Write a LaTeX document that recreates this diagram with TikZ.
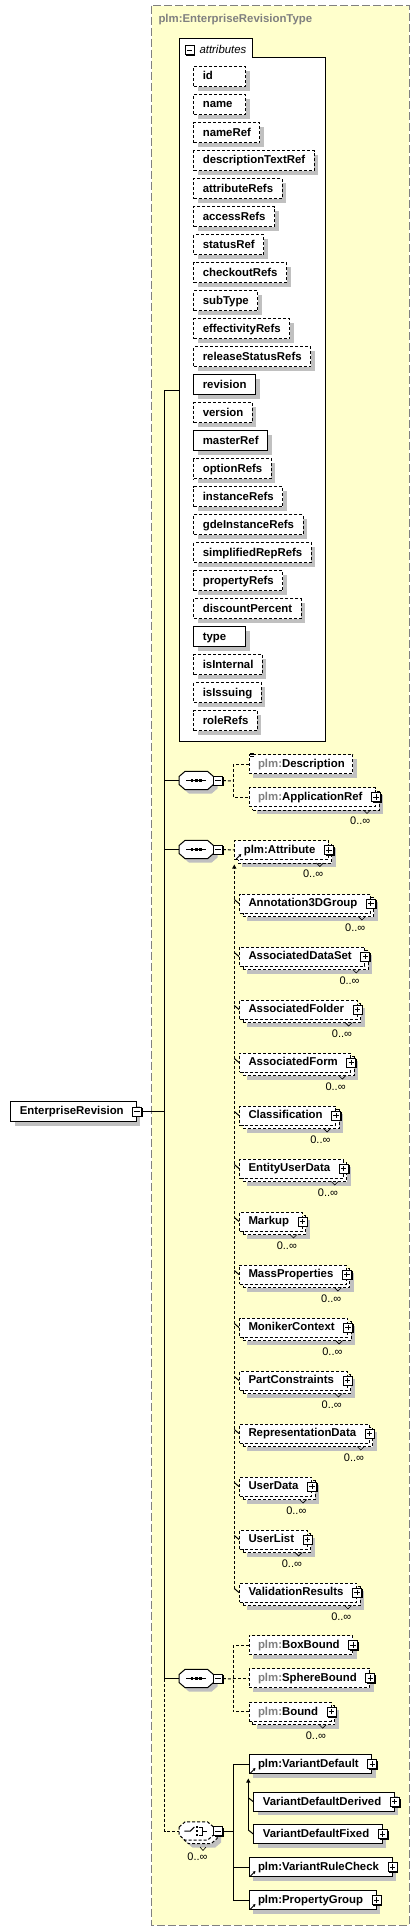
\documentclass[tikz,border=0pt]{standalone}
\usepackage{fontspec}
\setmainfont{Liberation Sans}
\usetikzlibrary{shadows,arrows.meta}
\definecolor{ylw}{RGB}{255,255,204}
\definecolor{shgray}{RGB}{192,192,192}
\definecolor{pfx}{RGB}{128,128,128}
\newcommand{\atleast}[2]{\setbox0\hbox{#2}\ifdim\wd0<#1\relax\makebox[#1][l]{\box0}\else\box0\fi}
\newcommand{\gp}{\textcolor{pfx}{plm:}}
\newcommand{\bx}[2]{\kern9pt#1\kern#2}
\tikzset{
  lbl/.style={font=\fontsize{11.4pt}{13pt}\selectfont\bfseries},
  ln/.style={line width=1pt},
  dsh/.style={dash pattern=on 3pt off 2pt},
  opt/.style={dsh},
  req/.style={},
  shad/.style={general shadow={shadow xshift=4pt, shadow yshift=-4pt, fill=shgray}},
  mshad/.style={general shadow={shadow xshift=7.5pt, shadow yshift=-7.5pt, fill=shgray},
                general shadow={shadow xshift=3.5pt, shadow yshift=-3.5pt, fill=white, draw=black, line width=1pt, dash pattern=on 3pt off 2pt}},
  attr/.style={lbl, draw, ln, fill=white, anchor=west, inner xsep=9pt, inner ysep=0pt, minimum height=20pt, text height=8.6pt, text depth=2pt, shad},
  elem/.style={lbl, draw, ln, fill=white, anchor=west, inner sep=0pt, minimum height=19pt, text height=8.6pt, text depth=2pt},
  single/.style={elem, shad},
  multi/.style={elem, mshad},
  pmb/.style={draw, fill=white, line width=.9pt, minimum size=9pt, inner sep=0pt, general shadow={shadow xshift=1.3pt, shadow yshift=-1.3pt, fill=black}},
  minusbox/.style={pmb, path picture={\draw[line width=.9pt] ([xshift=-2.7pt]path picture bounding box.center) -- ([xshift=2.7pt]path picture bounding box.center);}},
  plusbox/.style={pmb, path picture={\draw[line width=.9pt] ([xshift=-2.7pt]path picture bounding box.center) -- ([xshift=2.7pt]path picture bounding box.center) ([yshift=-2.7pt]path picture bounding box.center) -- ([yshift=2.7pt]path picture bounding box.center);}},
  cnt/.style={font=\fontsize{11pt}{13pt}\selectfont, inner sep=0pt, anchor=east},
  oct/.style={minimum width=34pt, minimum height=18pt, inner sep=0pt},
  tip/.style={-{Triangle[length=4pt,width=4pt]}},
}
\newcommand{\attr}[3]{\node[attr,#3] (a#1) at (193.3,{76.7+28*#1}) {\atleast{33.7pt}{#2}};}
\newcommand{\octpath}[2]{\path[#2] ([yshift=4pt]#1.west) -- ([xshift=6pt]#1.north west) -- ([xshift=-6pt]#1.north east) -- ([yshift=4pt]#1.east) -- ([yshift=-4pt]#1.east) -- ([xshift=-6pt]#1.south east) -- ([xshift=6pt]#1.south west) -- ([yshift=-4pt]#1.west) -- cycle;}
\newcommand{\seqsym}[1]{\draw[line width=1pt] ([xshift=-10pt]#1.center) -- ([xshift=10pt]#1.center);
  \foreach \dx in {-4.2,0,4.2} \fill ([xshift=\dx pt-1.3pt, yshift=-1.3pt]#1.center) rectangle ++(2.6pt,2.6pt);}
\newcommand{\chsym}[1]{\draw[line width=1pt] ([xshift=-12pt]#1.center) -- ([xshift=-6pt]#1.center) -- ([xshift=-2pt,yshift=4pt]#1.center);
  \foreach \dy in {-4,0,4} \fill ([xshift=-.4pt, yshift=\dy pt-1.1pt]#1.center) rectangle ++(2.2pt,2.2pt);
  \draw[line width=.9pt] ([xshift=2.2pt,yshift=4pt]#1.center) -- ([xshift=6.5pt,yshift=4pt]#1.center) -- ([xshift=6.5pt,yshift=-4pt]#1.center) -- ([xshift=2.2pt,yshift=-4pt]#1.center) ([xshift=6.5pt]#1.center) -- ([xshift=11pt]#1.center);}
\newcommand{\plus}[1]{\node[plusbox] (#1-pm) at (#1.east) {};}
\newcommand{\cnt}[1]{\node[cnt] (#1-n) at ([xshift=-5.5pt,yshift=-24pt]#1-pm.center) {0..∞};
  \draw[line width=.6pt] ([xshift=-12.5pt,yshift=-13pt]#1-pm.center) -- ++(3.5pt,-3.5pt) -- ++(3.5pt,3.5pt);}
\newcommand{\refic}[1]{\draw[line width=.9pt, -{Triangle[length=2.6pt,width=2.8pt]}] ([xshift=2pt,yshift=1pt]#1.south west) -- ++(5pt,5pt);}
\newcommand{\member}[3]{\node[multi,opt] (#1) at (239,{903.5+53*#2}) {\bx{#3}{13pt}};\plus{#1}\cnt{#1}
  \draw[ln] (#1.west) -- ++(-4.7pt,4pt);}
\begin{document}
\begin{tikzpicture}[x=1pt,y=-1pt]
\useasboundingbox (0,0) rectangle (420,1932);
\fill[white] (0,0) rectangle (420,1932);
% type frame
\draw[pfx, fill=ylw, line width=1pt, dash pattern=on 8pt off 3pt] (151.7,5.7) rectangle (409.3,1925);
\node[lbl, text=pfx, anchor=base west, inner sep=0pt] (title) at (158.3,22.7) {plm:EnterpriseRevisionType};
% attributes panel
\draw[ln, fill=white] (179.3,38.3) -- (252.7,38.3) -- (252.7,57.3) -- (325.3,57.3) -- (325.3,741) -- (179.3,741) -- cycle;
\coordinate (attrsW) at (179.3,390.3);
\node[minusbox] (attrs-pm) at (189.6,50.3) {};
\node[font=\fontsize{11.4pt}{13pt}\selectfont\itshape, anchor=base west, inner sep=0pt] (attrs-lbl) at (199.3,53.3) {attributes};
\attr{0}{id}{opt}
\attr{1}{name}{opt}
\attr{2}{nameRef}{opt}
\attr{3}{descriptionTextRef}{opt}
\attr{4}{attributeRefs}{opt}
\attr{5}{accessRefs}{opt}
\attr{6}{statusRef}{opt}
\attr{7}{checkoutRefs}{opt}
\attr{8}{subType}{opt}
\attr{9}{effectivityRefs}{opt}
\attr{10}{releaseStatusRefs}{opt}
\attr{11}{revision}{req}
\attr{12}{version}{opt}
\attr{13}{masterRef}{req}
\attr{14}{optionRefs}{opt}
\attr{15}{instanceRefs}{opt}
\attr{16}{gdeInstanceRefs}{opt}
\attr{17}{simplifiedRepRefs}{opt}
\attr{18}{propertyRefs}{opt}
\attr{19}{discountPercent}{opt}
\attr{20}{type}{req}
\attr{21}{isInternal}{opt}
\attr{22}{isIssuing}{opt}
\attr{23}{roleRefs}{opt}
% root element
\node[single, req, minimum height=20pt] (ER) at (10.3,1111.5) {\bx{EnterpriseRevision}{12.7pt}};
\node[minusbox] (ER-pm) at (ER.east) {};
% sequence 1
\node[oct] (seq1) at (196.3,780.5) {};
\octpath{seq1}{draw, ln, fill=white, shad}
\seqsym{seq1}
\node[minusbox] (seq1-pm) at ([xshift=4.5pt]seq1.east) {};
\coordinate (s1j) at (233.3,781);
\node[single, opt] (desc) at (248.5,764) {\bx{\gp Description}{8pt}};
\foreach \dy in {0,1.5,3} \draw[line width=.6pt] ([xshift=1.5pt,yshift=1pt-\dy pt]desc.north west) -- ++(4pt,0pt);
\node[multi, opt] (appref) at (248.5,797) {\bx{\gp ApplicationRef}{13pt}};
\plus{appref}\cnt{appref}
\draw[ln,dsh] (seq1-pm.east) -- (s1j);
\draw[ln,dsh] (desc.west) -- (s1j |- desc.west) -- (s1j |- appref.west) -- (appref.west);
% sequence 2
\node[oct] (seq2) at (196.3,849.5) {};
\octpath{seq2}{draw, ln, fill=white, shad}
\seqsym{seq2}
\node[minusbox] (seq2-pm) at ([xshift=4.5pt]seq2.east) {};
\member{m0}{0}{Annotation3DGroup}
\member{m1}{1}{AssociatedDataSet}
\member{m2}{2}{AssociatedFolder}
\member{m3}{3}{AssociatedForm}
\member{m4}{4}{Classification}
\member{m5}{5}{EntityUserData}
\member{m6}{6}{Markup}
\member{m7}{7}{MassProperties}
\member{m8}{8}{MonikerContext}
\member{m9}{9}{PartConstraints}
\member{m10}{10}{RepresentationData}
\member{m11}{11}{UserData}
\member{m12}{12}{UserList}
\member{m13}{13}{ValidationResults}
\coordinate (sub1) at (234.3,864.5);
\draw[ln,dsh,tip] ([xshift=-4.7pt,yshift=4pt]m13.west) -- (sub1);
\node[multi, opt] (attrib) at (234.3,850) {\bx{plm:Attribute}{13pt}};
\plus{attrib}\cnt{attrib}\refic{attrib}
\draw[ln,dsh] (seq2-pm.east) -- (attrib.west);
% sequence 3
\node[oct] (seq3) at (196.3,1678.5) {};
\octpath{seq3}{draw, ln, fill=white, shad}
\seqsym{seq3}
\node[minusbox] (seq3-pm) at ([xshift=4.5pt]seq3.east) {};
\coordinate (s3j) at (233.3,1679);
\node[single, opt] (boxb) at (248.5,1645) {\bx{\gp BoxBound}{13pt}};\plus{boxb}
\node[single, opt] (sphb) at (248.5,1678) {\bx{\gp SphereBound}{13pt}};\plus{sphb}
\node[multi, opt] (bound) at (248.5,1711.7) {\bx{\gp Bound}{13pt}};\plus{bound}\cnt{bound}
\draw[ln,dsh] (seq3-pm.east) -- (s3j);
\draw[ln,dsh] (boxb.west) -- (s3j |- boxb.west) -- (s3j |- bound.west) -- (bound.west);
\draw[ln,dsh] (s3j |- sphb.west) -- (sphb.west);
% choice
\node[oct] (choice) at (196.3,1831) {};
\octpath{choice}{draw, ln, fill=white, dsh, mshad}
\chsym{choice}
\node[minusbox] (choice-pm) at ([xshift=4.5pt]choice.east) {};
\node[cnt, anchor=center] (choice-n) at (197.5,1856.5) {0..∞};
\draw[line width=.6pt] (200,1847) -- ++(3pt,-3.5pt) -- ++(3pt,3.5pt);
\coordinate (chj) at (233.3,1831);
\node[single, req] (vd) at (248.5,1764) {\bx{plm:VariantDefault}{13pt}};\plus{vd}\refic{vd}
\node[single, req] (vdd) at (253.3,1801.7) {\bx{VariantDefaultDerived}{13pt}};\plus{vdd}
\node[single, req] (vdf) at (253.3,1834) {\bx{VariantDefaultFixed}{13pt}};\plus{vdf}
\node[single, req] (vrc) at (248.5,1867) {\bx{plm:VariantRuleCheck}{13pt}};\plus{vrc}\refic{vrc}
\node[single, req] (pg) at (248.5,1900) {\bx{plm:PropertyGroup}{13pt}};\plus{pg}\refic{pg}
\coordinate (sub2) at (248.3,1778.5);
\draw[ln,tip] ([xshift=-5pt,yshift=4pt]vdf.west) -- (sub2);
\draw[ln] (vdd.west) -- ++(-5pt,4pt);
\draw[ln] (vdf.west) -- ++(-5pt,4pt);
\draw[ln] (choice-pm.east) -- (chj);
\draw[ln] (vd.west) -- (chj |- vd.west) -- (chj |- pg.west) -- (pg.west);
\draw[ln] (chj |- vrc.west) -- (vrc.west);
% trunk
\coordinate (trk) at (164.5,390.3);
\draw[ln] (trk) -- (attrsW);
\draw[ln] (trk) -- (trk |- seq3.west);
\draw[ln] (ER-pm.east) -- (trk |- ER-pm.east);
\draw[ln] (trk |- seq1.west) -- (seq1.west);
\draw[ln] (trk |- seq2.west) -- (seq2.west);
\draw[ln] (trk |- seq3.west) -- (seq3.west);
\draw[ln,dsh] (trk |- seq3.west) -- (trk |- choice.west) -- (choice.west);
\end{tikzpicture}
\end{document}
